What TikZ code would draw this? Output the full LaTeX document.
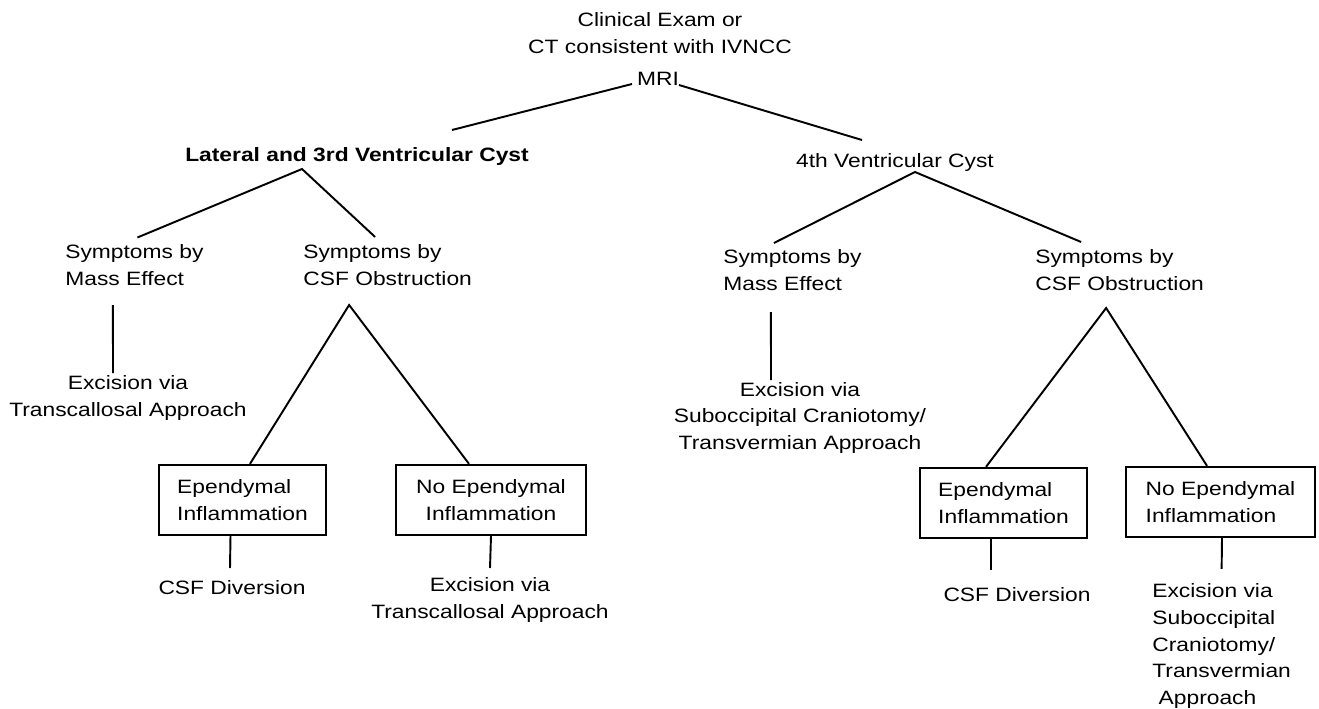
\documentclass[tikz,border=0pt]{standalone}
\usepackage{fontspec}
\setmainfont{Liberation Sans}[FakeStretch=1.18]
\usetikzlibrary{calc}

\begin{document}
\begin{tikzpicture}[x=0.02cm, y=0.02cm,
    every node/.style={inner sep=0pt, font=\fontsize{11}{15.3}\selectfont},
    heading/.style={align=center},
    finding/.style={align=left, anchor=west},
    treatment/.style={align=center},
    inflam/.style={rectangle, draw=black, line width=1.3pt, minimum height=1.4cm, align=left},
    link/.style={line width=1.1pt}
    ]
    \useasboundingbox (0,0) rectangle (1319,708);

    % Top
    \node (exam) [heading] at (660,674.5) {Clinical Exam or\\CT consistent with IVNCC};
    \node (mri) at (658,629) {MRI};
    \node (lat) [font=\fontsize{11}{15.3}\selectfont\bfseries] at (357,551) {Lateral and 3rd Ventricular Cyst};
    \node (fourth) at (895,545) {4th Ventricular Cyst};

    % Lateral and 3rd ventricle
    \node (lmass) [finding] at (65,442.5) {Symptoms by\\Mass Effect};
    \node (lcsf) [finding] at (303,442.5) {Symptoms by\\CSF Obstruction};
    \node (lexc) [treatment] at (128,310) {Excision via\\Transcallosal Approach};
    \node (lepi) [inflam, minimum width=3.34cm] at (242.5,208) {Ependymal\\Inflammation};
    \node (lnoepi) [inflam, minimum width=3.8cm, align=center] at (491,208) {No Ependymal\\Inflammation};
    \node (ldiv) [treatment] at (232,120) {CSF Diversion};
    \node (lexc2) [treatment] at (490,108) {Excision via\\Transcallosal Approach};

    % 4th ventricle
    \node (rmass) [finding] at (723,437.5) {Symptoms by\\Mass Effect};
    \node (rcsf) [finding] at (1035,437.5) {Symptoms by\\CSF Obstruction};
    \node (rexc) [treatment] at (800,290) {Excision via\\Suboccipital Craniotomy/\\Transvermian Approach};
    \node (repi) [inflam, minimum width=3.34cm] at (1003.5,205) {Ependymal\\Inflammation};
    \node (rnoepi) [inflam, minimum width=3.78cm] at (1220.5,206) {No Ependymal\\Inflammation};
    \node (rdiv) [treatment] at (1017,113) {CSF Diversion};
    \node (rexc2) [finding] at (1152,62) {Excision via\\Suboccipital\\Craniotomy/\\Transvermian\\\ Approach};

    % Lines - top
    \draw [link] ($(mri)+(-26,-5)$) -- ($(lat)+(95,27)$);
    \draw [link] ($(mri)+(21,-6)$) -- ($(fourth)+(-33,23)$);

    % Lines - lateral and 3rd
    \draw [link] ($(lmass)+(3,28)$) -- ($(lat)+(-55,-12)$) -- ($(lcsf)+(-12.5,28.5)$);
    \draw [link] ($(lmass)+(-21.5,-39.5)$) -- ($(lexc)+(-15,25)$);
    \draw [link] ($(lepi.north)+(7.5,0)$) -- ($(lcsf)+(-38.5,-39.5)$) -- ($(lnoepi.north)+(-22,0)$);
    \draw [link] ($(lepi.south)+(-12,0)$) -- ($(ldiv)+(-2,20)$);
    \draw [link] (lnoepi.south) -- ($(lexc2)+(0,32)$);

    % Lines - 4th
    \draw [link] ($(rmass)+(-18.5,27.5)$) -- ($(fourth)+(20,-9)$) -- ($(rcsf)+(-38.5,28.5)$);
    \draw [link] ($(rmass)+(-21.5,-41.5)$) -- ($(rexc)+(-29,38)$);
    \draw [link] ($(repi.north)+(-17.5,0)$) -- ($(rcsf)+(-13.5,-37.5)$) -- ($(rnoepi.north)+(-13.5,0)$);
    \draw [link] ($(repi.south)+(-12.5,0)$) -- ($(rdiv)+(-26,25)$);
    \draw [link] ($(rnoepi.south)+(1.5,0)$) -- ($(rexc2.north)+(0,14)$);

\end{tikzpicture}
\end{document}
